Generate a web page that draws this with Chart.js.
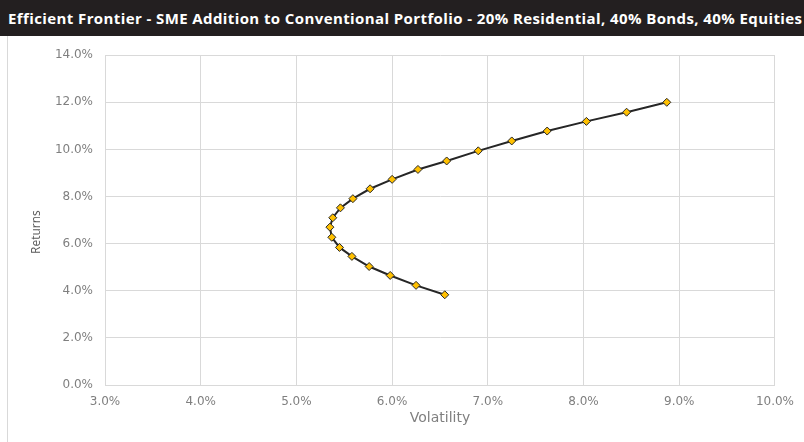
<!DOCTYPE html>
<html>
<head>
<meta charset="utf-8">
<script src="https://cdn.jsdelivr.net/npm/chart.js@4"></script>
<style>
  html, body { margin: 0; padding: 0; background: #ffffff; }
  #wrap { position: relative; width: 804px; height: 442px; overflow: hidden; }
  #title { position: absolute; left: 0; top: 0; width: 804px; height: 36px; background: #231f20;
           color: #ffffff; font-family: "Open Sans", sans-serif; font-weight: bold; font-size: 15px;
           letter-spacing: 0.4px; line-height: 36px; padding-left: 8px; box-sizing: border-box; white-space: nowrap; }
  #box { position: absolute; left: 0; top: 36px; width: 804px; height: 406px; }
  #frame { position: absolute; left: 7px; top: 36px; width: 1px; height: 406px; background: #d9d9d9; }
</style>
</head>
<body>
<div id="wrap">
  <div id="title">Efficient Frontier - SME Addition to Conventional Portfolio - 20% Residential, 40% Bonds, 40% Equities</div>
  <div id="frame"></div>
  <div id="box"><canvas id="c" width="804" height="406"></canvas></div>
</div>
<script>
const volatility = [6.55, 6.25, 5.98, 5.76, 5.58, 5.45, 5.37, 5.35, 5.38, 5.46, 5.59, 5.77, 6.00, 6.27, 6.57, 6.90, 7.25, 7.62, 8.03, 8.45, 8.87];
const returns    = [3.83, 4.23, 4.65, 5.03, 5.46, 5.84, 6.27, 6.70, 7.10, 7.52, 7.91, 8.33, 8.73, 9.15, 9.51, 9.94, 10.36, 10.78, 11.19, 11.58, 12.00];
const xAxisRange = [3, 10];
const yAxisRange = [0, 14];
const xTitle = 'Volatility';
const yTitle = 'Returns';

const points = volatility.map((v, i) => ({ x: v, y: returns[i] }));
const pct = v => Number(v).toFixed(1) + '%';

const yTitlePlugin = {
  id: 'yTitlePlugin',
  afterDraw(chart) {
    const ctx = chart.ctx;
    const area = chart.chartArea;
    ctx.save();
    ctx.translate(37, (area.top + area.bottom) / 2 + 12);
    ctx.rotate(-Math.PI / 2);
    ctx.fillStyle = '#595959';
    ctx.font = '12px "Open Sans"';
    ctx.textAlign = 'center';
    ctx.textBaseline = 'middle';
    ctx.fillText(yTitle, 0, 0);
    ctx.restore();
  }
};

new Chart(document.getElementById('c'), {
  type: 'scatter',
  data: {
    datasets: [{
      data: points,
      showLine: true,
      borderColor: '#262626',
      borderWidth: 2,
      backgroundColor: '#ffc000',
      pointStyle: 'rectRot',
      pointRadius: 4,
      pointBorderColor: '#262626',
      pointBorderWidth: 1,
      pointBackgroundColor: '#ffc000',
      tension: 0
    }]
  },
  plugins: [yTitlePlugin],
  options: {
    responsive: false,
    animation: false,
    layout: { padding: { top: 16, right: 25, left: 0, bottom: 0 } },
    plugins: { legend: { display: false }, tooltip: { enabled: false }, title: { display: false } },
    scales: {
      x: {
        type: 'linear',
        min: xAxisRange[0], max: xAxisRange[1],
        ticks: { stepSize: 1, callback: pct, color: '#7f7f7f', padding: 10,
                 font: { family: 'DejaVu Sans', size: 12 }, maxRotation: 0 },
        grid: { color: '#d9d9d9', drawTicks: false, lineWidth: 1 },
        border: { color: '#d9d9d9' },
        title: { display: true, text: xTitle, color: '#7f7f7f',
                 font: { family: 'DejaVu Sans', size: 14 }, padding: { top: 0, bottom: 15 } },
        afterFit: s => { s.height = 57; }
      },
      y: {
        type: 'linear',
        min: yAxisRange[0], max: yAxisRange[1],
        ticks: { stepSize: 2, callback: pct, color: '#7f7f7f', padding: 12,
                 font: { family: 'DejaVu Sans', size: 12 } },
        grid: { color: '#d9d9d9', drawTicks: false, lineWidth: 1 },
        border: { color: '#d9d9d9' },
        title: { display: false },
        afterFit: s => { s.width = 105; }
      }
    }
  }
});
</script>
</body>
</html>
